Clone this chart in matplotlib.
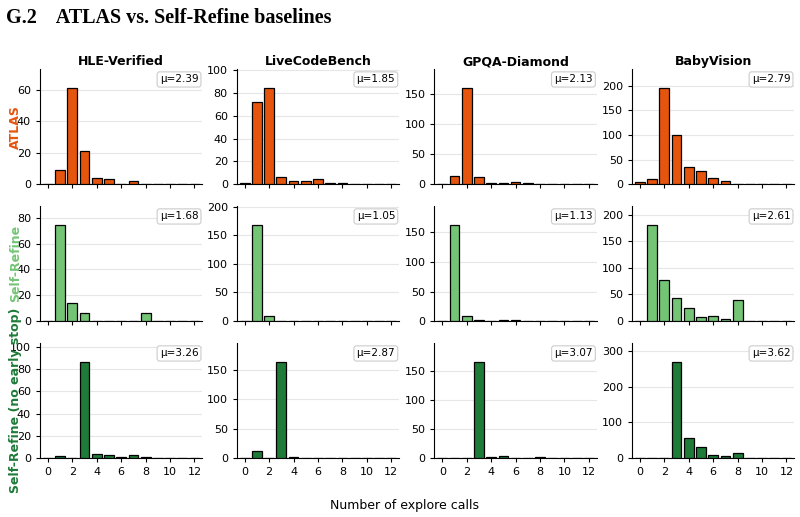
import numpy as np
import matplotlib.pyplot as plt
from matplotlib.ticker import MaxNLocator

# explore-call histograms, x = 0..12
calls = np.arange(13)
benchmarks = ["HLE-Verified", "LiveCodeBench", "GPQA-Diamond", "BabyVision"]
methods = ["ATLAS", "Self-Refine", "Self-Refine (no early stop)"]
colors = ["#e6550d", "#74c476", "#1e7b38"]

atlas_hle = [0, 9, 61, 21, 4, 3, 0, 2, 0, 0, 0, 0, 0]
atlas_lcb = [1, 72, 84, 6, 3, 3, 4, 1, 1, 0, 0, 0, 0]
atlas_gpqa = [0, 14, 160, 11, 2, 1, 3, 2, 0, 0, 0, 0, 0]
atlas_baby = [5, 10, 195, 100, 34, 26, 13, 6, 0, 0, 0, 0, 0]

sr_hle = [0, 74, 14, 6, 0, 0, 0, 0, 6, 0, 0, 0, 0]
sr_lcb = [0, 167, 8, 0, 0, 0, 0, 0, 0, 0, 0, 0, 0]
sr_gpqa = [0, 162, 8, 1, 0, 2, 1, 0, 0, 0, 0, 0, 0]
sr_baby = [0, 180, 78, 44, 24, 8, 10, 4, 40, 0, 0, 0, 0]

srn_hle = [0, 2, 0, 86, 4, 3, 1, 3, 1, 0, 0, 0, 0]
srn_lcb = [0, 12, 0, 162, 2, 0, 0, 0, 0, 0, 0, 0, 0]
srn_gpqa = [0, 0, 0, 165, 1, 3, 0, 0, 1, 0, 0, 0, 0]
srn_baby = [0, 1, 1, 268, 56, 32, 9, 7, 14, 0, 0, 0, 0]

means = [[2.39, 1.85, 2.13, 2.79],
         [1.68, 1.05, 1.13, 2.61],
         [3.26, 2.87, 3.07, 3.62]]

data = [[atlas_hle, atlas_lcb, atlas_gpqa, atlas_baby],
        [sr_hle, sr_lcb, sr_gpqa, sr_baby],
        [srn_hle, srn_lcb, srn_gpqa, srn_baby]]

fig = plt.figure(figsize=(8, 5.17), dpi=100)
fig.text(0.008, 0.965, "G.2    ATLAS vs. Self-Refine baselines",
         family="Liberation Serif", fontweight="bold", fontsize=14.5,
         va="center", ha="left")

lefts = [0.050, 0.296, 0.543, 0.790]
bottoms = [0.644, 0.379, 0.114]
w, h = 0.203, 0.222

for i in range(3):
    for j in range(4):
        ax = fig.add_axes([lefts[j], bottoms[i], w, h])
        vals = data[i][j]
        ax.bar(calls, vals, width=0.8, color=colors[i],
               edgecolor="black", linewidth=0.9, zorder=3)
        ax.set_xlim(-0.65, 12.65)
        ax.set_ylim(0, max(vals) * 1.2)
        ax.set_xticks(range(0, 13, 2))
        ax.yaxis.set_major_locator(MaxNLocator(nbins=6, steps=[1, 2, 5, 10]))
        ax.grid(axis="y", color="#e6e6e6", linewidth=0.8, zorder=0)
        ax.spines["top"].set_visible(False)
        ax.spines["right"].set_visible(False)
        ax.tick_params(labelsize=8, length=3, width=0.8)
        if i < 2:
            ax.set_xticks(range(0, 13, 2), [])
        ax.text(0.975, 0.955, "\u03bc=%.2f" % means[i][j], transform=ax.transAxes,
                ha="right", va="top", fontsize=7.5,
                bbox=dict(boxstyle="round,pad=0.25", fc="white", ec="#cccccc", lw=0.8))
        if i == 0:
            ax.set_title(benchmarks[j], fontsize=9, fontweight="bold", pad=3)

    # row labels
    fig.text(0.019, bottoms[i] + h / 2, methods[i], color=colors[i], fontsize=9,
             fontweight="bold", rotation=90, ha="center", va="center")

fig.text(0.506, 0.022, "Number of explore calls", ha="center", va="center", fontsize=9)

plt.savefig("out.png", dpi=100)
